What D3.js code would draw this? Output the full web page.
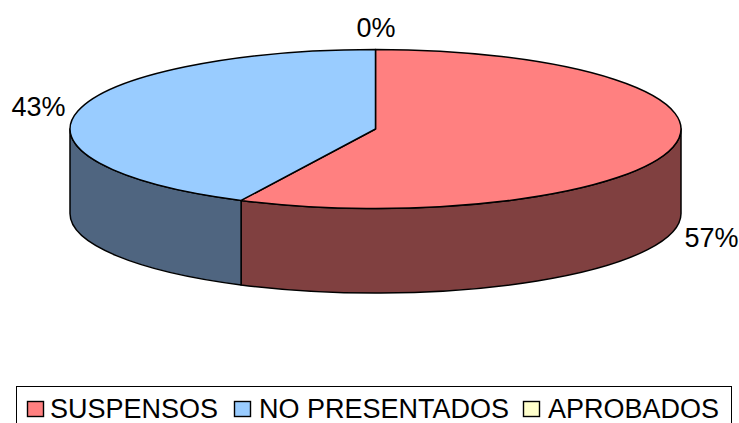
<!DOCTYPE html>
<html><head><meta charset="utf-8">
<style>html,body{margin:0;padding:0;background:#fff;overflow:hidden}svg{display:block}text{font-family:"Liberation Sans",Arial,sans-serif;fill:#000}</style>
<script src="https://cdnjs.cloudflare.com/ajax/libs/d3/7.8.5/d3.min.js"></script>
</head><body><script>
const categories = ["SUSPENSOS", "NO PRESENTADOS", "APROBADOS"];
const shares = [57.25, 42.75, 0];
const topColors = ["#FF8080", "#99CCFF", "#FFFFCC"];
const sideColors = ["#804040", "#4F6580", "#808066"];
const labelSpots = [[711.5, 240], [38.5, 108.5], [376, 29.5]];
const legendX = [27, 234, 523];
const legendTextX = [50, 259, 548];

const W = 739, H = 423, cx = 375.5, cy = 129, rx = 305.5, ry = 79.5, depth = 84.5, fs = 27;
const svg = d3.select("body").append("svg").attr("width", W).attr("height", H);
const pie = d3.pie().sort(null).value(d => d).startAngle(0).endAngle(2 * Math.PI);
const arcs = pie(shares);
const px = a => cx + rx * Math.sin(a), py = a => cy - ry * Math.cos(a);

function sector(a0, a1) {
  if (a1 <= a0) return `M${cx},${cy}L${px(a0)},${py(a0)}Z`;
  const large = a1 - a0 > Math.PI ? 1 : 0;
  return `M${cx},${cy}L${px(a0)},${py(a0)}A${rx},${ry} 0 ${large} 1 ${px(a1)},${py(a1)}Z`;
}
function wall(a0, a1) {
  const s = Math.max(a0, Math.PI / 2), e = Math.min(a1, 3 * Math.PI / 2);
  if (e <= s) return null;
  return `M${px(s)},${py(s)}A${rx},${ry} 0 0 1 ${px(e)},${py(e)}L${px(e)},${py(e) + depth}A${rx},${ry} 0 0 0 ${px(s)},${py(s) + depth}Z`;
}
const pies = svg.append("g").attr("stroke", "#000").attr("stroke-width", 1.5).attr("stroke-linejoin", "round");
pies.selectAll("path.wall").data(arcs.filter(d => wall(d.startAngle, d.endAngle)))
  .join("path").attr("class", "wall")
  .attr("d", d => wall(d.startAngle, d.endAngle)).attr("fill", d => sideColors[d.index]);
pies.selectAll("path.top").data(arcs.filter(d => d.endAngle > d.startAngle))
  .join("path").attr("class", "top")
  .attr("d", d => sector(d.startAngle, d.endAngle)).attr("fill", d => topColors[d.index]);

svg.selectAll("text.pct").data(arcs).join("text").attr("class", "pct")
  .attr("x", d => labelSpots[d.index][0]).attr("y", d => labelSpots[d.index][1])
  .attr("text-anchor", "middle").attr("dominant-baseline", "middle")
  .attr("font-size", fs).text(d => d3.format(".0f")(d.value) + "%");

svg.append("rect").attr("x", 16.5).attr("y", 386.5).attr("width", 715).attr("height", 50)
  .attr("fill", "#fff").attr("stroke", "#000").attr("stroke-width", 1);
const items = svg.selectAll("g.item").data(categories).join("g").attr("class", "item");
items.append("rect").attr("x", (d, i) => legendX[i] + 0.5).attr("y", 401.5).attr("width", 16).attr("height", 15)
  .attr("fill", (d, i) => topColors[i]).attr("stroke", "#000").attr("stroke-width", 1.4);
items.append("text").attr("x", (d, i) => legendTextX[i]).attr("y", 418).attr("font-size", fs).text(d => d);
</script></body></html>
